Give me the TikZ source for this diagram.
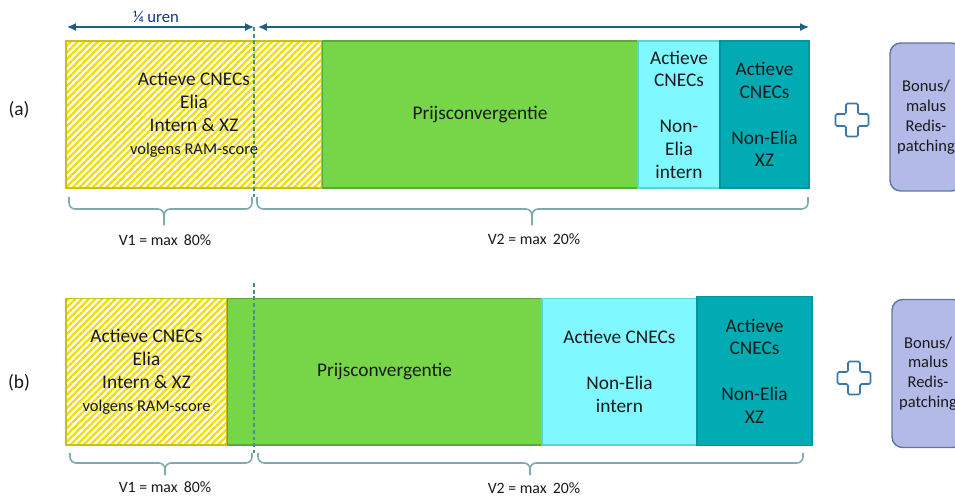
\documentclass[tikz,border=0pt]{standalone}
\usepackage{fontspec}
\setmainfont{Carlito}
\usepackage{xcolor}
\usepackage{tikz}
\usetikzlibrary{patterns.meta,arrows.meta}
\definecolor{hatchyellow}{RGB}{240,222,0}
\definecolor{hatchedge}{RGB}{205,192,20}
\definecolor{greenbar}{RGB}{118,214,72}
\definecolor{greenedge}{RGB}{90,170,55}
\definecolor{cyanbar}{RGB}{128,248,255}
\definecolor{cyanedge}{RGB}{90,210,220}
\definecolor{tealbar}{RGB}{0,171,179}
\definecolor{tealedge}{RGB}{0,150,158}
\definecolor{lavender}{RGB}{180,186,232}
\definecolor{lavedge}{RGB}{88,122,150}
\definecolor{bracegrey}{RGB}{127,170,176}
\definecolor{cutteal}{RGB}{70,140,155}
\definecolor{spanblue}{RGB}{31,95,128}
\definecolor{ink}{RGB}{26,26,26}

\begin{document}
\begin{tikzpicture}[x=0.02cm,y=-0.02cm,
  bar/.style={draw, line width=0.6pt, minimum height=2.94cm, inner sep=0pt, outer sep=0pt,
    align=center, text=ink, font=\fontsize{11}{13}\selectfont},
  hatched/.style={bar, draw=hatchedge, pattern={Lines[angle=45,distance=2.7pt,line width=1.3pt]}, pattern color=hatchyellow},
  greenbox/.style={bar, fill=greenbar, draw=greenedge},
  cyanbox/.style={bar, fill=cyanbar, draw=cyanedge},
  tealbox/.style={bar, fill=tealbar, draw=tealedge},
  bonus/.style={draw=lavedge, fill=lavender, line width=0.8pt, rounded corners=6pt, minimum width=1.44cm,
    minimum height=2.96cm, align=center, text=ink, font=\fontsize{9.4}{11.3}\selectfont},
  plus/.style={draw=cutteal!85!blue, fill=white, line width=0.9pt, rounded corners=0.8pt},
  cutline/.style={draw=cutteal, line width=0.7pt, dash pattern=on 2.2pt off 1.6pt},
  span/.style={draw=spanblue, line width=0.8pt, {Latex[length=5pt,width=4.5pt]}-{Latex[length=5pt,width=4.5pt]}},
  bracket/.style={draw=bracegrey, line width=0.9pt, rounded corners=3.5pt},
  tag/.style={text=ink, font=\fontsize{9}{11}\selectfont},
  rowlabel/.style={text=ink, font=\fontsize{11}{13}\selectfont}]
\useasboundingbox (0,0) rectangle (955,495);

% ---- row (a)
\node[rowlabel] (la) at (19,110) {(a)};
\node[hatched, minimum width=5.12cm] (a1) at (194,114.5) {Actieve CNECs\\Elia\\Intern \& XZ\\{\fontsize{9.4}{11}\selectfont volgens RAM-score}};
\node[greenbox, minimum width=6.32cm] (a2) at (480,114.5) {Prijsconvergentie};
\node[cyanbox, minimum width=1.64cm] (a3) at (679,114.5) {Actieve\\CNECs\\[13pt]Non-\\Elia\\intern};
\node[tealbox, minimum width=1.78cm] (a4) at (764.5,114.5) {Actieve\\CNECs\\[13pt]Non-Elia\\XZ};
\draw[plus] (852,120) ++(-6,-16.5) -- ++(12,0) -- ++(0,10.5) -- ++(10.5,0) -- ++(0,12) -- ++(-10.5,0)
  -- ++(0,10.5) -- ++(-12,0) -- ++(0,-10.5) -- ++(-10.5,0) -- ++(0,-12) -- ++(10.5,0) -- cycle;
\node[bonus] (ra) at (926,117) {Bonus/\\malus\\Redis-\\patching};

% time span arrows and split
\coordinate (qa) at (67,27);
\coordinate (cuta) at (254,27);
\coordinate (cutab) at (254,197);
\coordinate (ra1) at (258,27);
\coordinate (ra2) at (809,27);
\draw[span] (qa) -- (cuta);
\draw[span] (ra1) -- (ra2);
\node[text=spanblue!70!blue!80!black, font=\fontsize{9.5}{11}\selectfont] (kw) at (156,17) {¼ uren};
\draw[cutline] (cuta) -- (cutab);

% brackets
\coordinate (v1s) at (69,197);
\coordinate (v1m) at (164,209);
\coordinate (v1t) at (164,225);
\coordinate (v1e) at (252,197);
\coordinate (v2s) at (257,197);
\coordinate (v2m) at (532,209);
\coordinate (v2t) at (532,225);
\coordinate (v2e) at (808,197);
\draw[bracket] (v1s) |- (v1m) -- (v1t);
\draw[bracket] (v1e) |- (v1m) -- (v1t);
\draw[bracket] (v2s) |- (v2m) -- (v2t);
\draw[bracket] (v2e) |- (v2m) -- (v2t);
\node[tag] (v1a) at (165,240) {V1 = max\, 80\%};
\node[tag] (v2a) at (534,239) {V2 = max\, 20\%};

% ---- row (b)
\node[rowlabel] (lb) at (19,383) {(b)};
\node[hatched, minimum width=3.22cm] (b1) at (146.5,371.5) {Actieve CNECs\\Elia\\Intern \& XZ\\{\fontsize{9.4}{11}\selectfont volgens RAM-score}};
\node[greenbox, minimum width=6.30cm] (b2) at (384.5,371.5) {Prijsconvergentie};
\node[cyanbox, minimum width=3.10cm] (b3) at (619.5,371.5) {Actieve CNECs\\[13pt]Non-Elia\\intern};
\node[tealbox, minimum width=2.30cm, minimum height=2.98cm] (b4) at (754.5,371) {Actieve\\CNECs\\[13pt]Non-Elia\\XZ};
\draw[plus] (854,378) ++(-6,-16.5) -- ++(12,0) -- ++(0,10.5) -- ++(10.5,0) -- ++(0,12) -- ++(-10.5,0)
  -- ++(0,10.5) -- ++(-12,0) -- ++(0,-10.5) -- ++(-10.5,0) -- ++(0,-12) -- ++(10.5,0) -- cycle;
\node[bonus] (rb) at (928,373.5) {Bonus/\\malus\\Redis-\\patching};

\coordinate (cutb) at (254,283);
\coordinate (cutbb) at (254,453);
\draw[cutline] (cutb) -- (cutbb);

\coordinate (w1s) at (70,453);
\coordinate (w1m) at (165,463);
\coordinate (w1t) at (165,475);
\coordinate (w1e) at (252,453);
\coordinate (w2s) at (258,453);
\coordinate (w2m) at (530,463);
\coordinate (w2t) at (530,475);
\coordinate (w2e) at (803,453);
\draw[bracket] (w1s) |- (w1m) -- (w1t);
\draw[bracket] (w1e) |- (w1m) -- (w1t);
\draw[bracket] (w2s) |- (w2m) -- (w2t);
\draw[bracket] (w2e) |- (w2m) -- (w2t);
\node[tag] (v1b) at (165,487) {V1 = max\, 80\%};
\node[tag] (v2b) at (534,488) {V2 = max\, 20\%};
\end{tikzpicture}
\end{document}
